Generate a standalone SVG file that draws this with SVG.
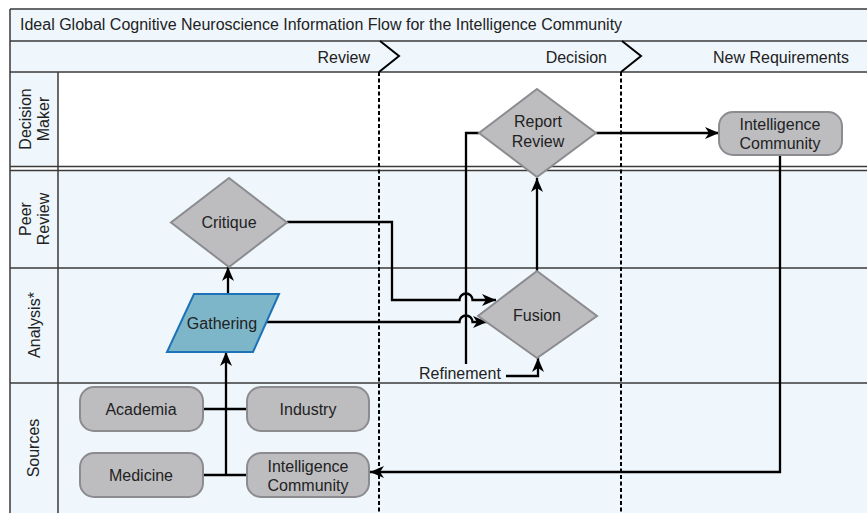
<svg xmlns="http://www.w3.org/2000/svg" width="867" height="513" viewBox="0 0 867 513">
<defs>
<style>
text{font-family:"Liberation Sans",Arial,sans-serif;font-size:16px;fill:#222}
.lane{fill:#eff7fd}
.ln{stroke:#3a3a3a;stroke-width:1.5;fill:none}
.dot{stroke:#000;stroke-width:2;stroke-dasharray:4,2.5;fill:none}
.c{stroke:#000;stroke-width:2.3;fill:none}
.g{fill:#bdbdc0;stroke:#8c8c90;stroke-width:2}
.mid{text-anchor:middle}
</style>
<marker id="ah" markerUnits="userSpaceOnUse" markerWidth="15" markerHeight="13" refX="14" refY="6.5" orient="auto" viewBox="0 0 15 13">
<path d="M0,0.5 L14,6.5 L0,12.5 L4,6.5 z" fill="#000"/>
</marker>
</defs>
<g id="frame">
<rect class="lane" x="10" y="9" width="862" height="62"/>
<rect fill="#fff" x="10" y="72" width="862" height="95"/>
<rect class="lane" x="10" y="170" width="862" height="350"/>
<rect class="lane" x="10" y="72" width="48" height="95"/>
<path class="ln" d="M10,9 H872 M10,9 V520 M10,41 H872 M10,72 H872 M10,166.5 H872 M10,170.5 H872 M10,268 H872 M10,383 H872 M58,72 V520"/>
<text x="20" y="30">Ideal Global Cognitive Neuroscience Information Flow for the Intelligence Community</text>
<g id="phases">
<text x="370" y="63" text-anchor="end">Review</text>
<text x="607" y="63" text-anchor="end">Decision</text>
<text x="713" y="63">New Requirements</text>
<path fill="none" stroke="#000" stroke-width="2" d="M380,41 L399,56 L379,72"/>
<path fill="none" stroke="#000" stroke-width="2" d="M622,41 L641,56 L621,72"/>
<path class="dot" d="M379,72 V513 M621,72 V513"/>
</g>
<g id="lane-labels" transform="rotate(-90)">
<text class="mid" x="-119" y="31">Decision</text>
<text class="mid" x="-119" y="49">Maker</text>
<text class="mid" x="-219" y="31">Peer</text>
<text class="mid" x="-219" y="49">Review</text>
<text class="mid" x="-325" y="40">Analysis*</text>
<text class="mid" x="-448" y="39">Sources</text>
</g>
</g>
<g id="connectors">
<path class="c" d="M203,409 H247 M203,475 H247"/>
<path class="c" marker-end="url(#ah)" d="M226,475 V352"/>
<path class="c" marker-end="url(#ah)" d="M228,294 V267"/>
<path class="c" marker-end="url(#ah)" d="M287,222 H392 V300 H459.5 A6.5,6.5 0 0 1 472.5,300 H496"/>
<path class="c" marker-end="url(#ah)" d="M267,322 H459.5 A6.5,6.5 0 0 1 472.5,322 H487"/>
<path class="c" marker-end="url(#ah)" d="M479,133 H466 V376 H538 V358"/>
<path class="c" marker-end="url(#ah)" d="M537,271 V178"/>
<path class="c" marker-end="url(#ah)" d="M596,133 H719"/>
<path class="c" marker-end="url(#ah)" d="M780,155 V472 H370"/>
<rect class="lane" x="414" y="364" width="92" height="17"/>
<text x="419" y="379">Refinement</text>
</g>
<g id="report-review">
<path class="g" d="M537,89 L596,133 L537,177 L479,133 z"/>
<text class="mid" x="538" y="127">Report</text>
<text class="mid" x="538" y="147">Review</text>
</g>
<g id="ic-decision">
<rect class="g" x="719" y="112" width="123" height="43" rx="14"/>
<text class="mid" x="780" y="130">Intelligence</text>
<text class="mid" x="780" y="149">Community</text>
</g>
<g id="critique">
<path class="g" d="M229,178 L287,222.5 L229,267 L171,222.5 z"/>
<text class="mid" x="229" y="228">Critique</text>
</g>
<g id="gathering">
<path d="M194,294 H279 L253,352 H167 z" fill="#7db5c9" stroke="#1d72b8" stroke-width="2"/>
<text class="mid" x="222" y="329">Gathering</text>
</g>
<g id="fusion">
<path class="g" d="M537,271 L597,316 L537,358 L478,316 z"/>
<text class="mid" x="537" y="321">Fusion</text>
</g>
<g id="academia">
<rect class="g" x="80" y="387" width="123" height="44" rx="14"/>
<text class="mid" x="141" y="415">Academia</text>
</g>
<g id="industry">
<rect class="g" x="247" y="387" width="122" height="44" rx="14"/>
<text class="mid" x="308" y="415">Industry</text>
</g>
<g id="medicine">
<rect class="g" x="80" y="453" width="123" height="44" rx="14"/>
<text class="mid" x="141" y="481">Medicine</text>
</g>
<g id="ic-sources">
<rect class="g" x="247" y="453" width="122" height="44" rx="14"/>
<text class="mid" x="308" y="472">Intelligence</text>
<text class="mid" x="308" y="491">Community</text>
</g>
</svg>
